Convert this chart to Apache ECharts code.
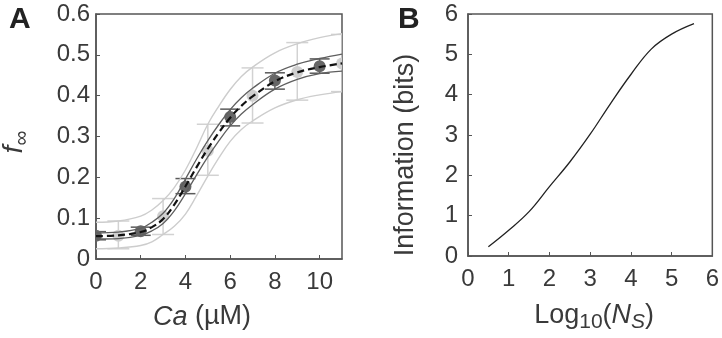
<!DOCTYPE html>
<html>
  <head>
    <meta charset="utf-8" />
    <title>Ca response and information</title>
    <script src="https://cdn.jsdelivr.net/npm/echarts@6/dist/echarts.min.js"></script>
    <style>
      body { margin: 0; background: #fff; }
    </style>
  </head>
  <body>
    <div id="main" style="width: 722px; height: 338px"></div>
    <script type="text/javascript">
      // panel A: fitted curves, sampled at these Ca values
      var curveX = [0, 1, 2, 2.5, 3, 3.5, 4, 4.5, 5, 5.5, 6, 6.5, 7, 8, 9, 10, 11];
      var fitMid = [0.056, 0.058, 0.066, 0.078, 0.098, 0.133, 0.178, 0.225, 0.27, 0.31, 0.346, 0.375, 0.398, 0.435, 0.457, 0.47, 0.479];
      var darkHi = [0.064, 0.066, 0.075, 0.09, 0.112, 0.148, 0.196, 0.245, 0.29, 0.33, 0.366, 0.395, 0.418, 0.455, 0.477, 0.491, 0.502];
      var darkLo = [0.049, 0.05, 0.058, 0.069, 0.087, 0.118, 0.16, 0.206, 0.25, 0.29, 0.326, 0.355, 0.378, 0.416, 0.44, 0.454, 0.46];
      var lightHi = [0.09, 0.093, 0.105, 0.12, 0.143, 0.175, 0.218, 0.272, 0.33, 0.375, 0.415, 0.447, 0.47, 0.505, 0.527, 0.542, 0.552];
      var lightLo = [0.025, 0.027, 0.033, 0.042, 0.06, 0.08, 0.11, 0.155, 0.203, 0.248, 0.288, 0.317, 0.338, 0.37, 0.39, 0.402, 0.41];

      // panel A: measured points with error bars
      var darkX = [0, 2, 4, 6, 8, 10];
      var darkY = [0.057, 0.068, 0.177, 0.348, 0.437, 0.472];
      var darkErrLo = [0.047, 0.058, 0.16, 0.326, 0.416, 0.455];
      var darkErrHi = [0.067, 0.078, 0.197, 0.367, 0.456, 0.49];
      var lightX = [1, 3, 5, 7, 9, 11];
      var lightY = [0.057, 0.105, 0.265, 0.4, 0.458, 0.479];
      var lightErrLo = [0.025, 0.06, 0.205, 0.333, 0.389, 0.41];
      var lightErrHi = [0.093, 0.148, 0.33, 0.468, 0.53, 0.55];

      // panel B: information curve
      var logNs = [0.5, 1, 1.5, 2, 2.5, 3, 3.5, 4, 4.5, 5, 5.55];
      var infoBits = [0.23, 0.64, 1.1, 1.72, 2.33, 3.02, 3.78, 4.5, 5.13, 5.5, 5.76];

      var aTicks = ["0", "0.1", "0.2", "0.3", "0.4", "0.5", "0.6"];

      function pairs(xs, ys) {
        var out = [];
        for (var i = 0; i < xs.length; i++) out.push([xs[i], ys[i]]);
        return out;
      }
      function errRows(xs, lo, hi) {
        var out = [];
        for (var i = 0; i < xs.length; i++) out.push([xs[i], lo[i], hi[i]]);
        return out;
      }
      function errBar(color, cap) {
        return function (params, api) {
          var x = api.value(0);
          var lo = api.coord([x, api.value(1)]);
          var hi = api.coord([x, api.value(2)]);
          var st = { stroke: color, lineWidth: 1.5 };
          return {
            type: "group",
            children: [
              { type: "line", shape: { x1: lo[0], y1: lo[1], x2: hi[0], y2: hi[1] }, style: st },
              { type: "line", shape: { x1: lo[0] - cap, y1: lo[1], x2: lo[0] + cap, y2: lo[1] }, style: st },
              { type: "line", shape: { x1: hi[0] - cap, y1: hi[1], x2: hi[0] + cap, y2: hi[1] }, style: st }
            ]
          };
        };
      }
      function dot(color, r) {
        return function (params, api) {
          var p = api.coord([api.value(0), api.value(1)]);
          return { type: "circle", shape: { cx: p[0], cy: p[1], r: r }, style: { fill: color } };
        };
      }
      function curve(ys, color, width, type) {
        return {
          type: "line",
          xAxisIndex: 0,
          yAxisIndex: 0,
          data: pairs(curveX, ys),
          smooth: 0.4,
          showSymbol: false,
          silent: true,
          lineStyle: { color: color, width: width, type: type || "solid" }
        };
      }

      var font = "Liberation Sans, Arial, sans-serif";
      var txt = "#3a3a3a";
      var axisCommon = {
        axisLine: { show: true, onZero: false, lineStyle: { color: "#555", width: 1.5 } },
        axisTick: { show: true, inside: true, length: 4, lineStyle: { color: "#555", width: 1 } },
        splitLine: { show: false },
        axisLabel: { color: txt, fontSize: 24, fontFamily: font }
      };

      var myChart = echarts.init(document.getElementById("main"));
      var option = {
        animation: false,
        backgroundColor: "#fff",
        grid: [
          { left: 96, top: 14, width: 246, height: 245, show: true, borderColor: "#555", borderWidth: 1.5 },
          { left: 468, top: 14, width: 245, height: 245, show: true, borderColor: "#555", borderWidth: 1.5 }
        ],
        xAxis: [
          Object.assign({}, axisCommon, {
            type: "value", gridIndex: 0, min: 0, max: 11, interval: 2,
            axisLabel: Object.assign({}, axisCommon.axisLabel, { margin: 11, showMaxLabel: false })
          }),
          Object.assign({}, axisCommon, {
            type: "value", gridIndex: 1, min: 0, max: 6, interval: 1,
            axisLabel: Object.assign({}, axisCommon.axisLabel, { margin: 11 }),
            name: "Log{sub|10}({i|N}{isub|S})",
            nameLocation: "middle",
            nameGap: 42,
            nameTextStyle: {
              color: txt, fontSize: 27, fontFamily: font, padding: [0, 0, 0, 8],
              rich: {
                sub: { fontSize: 21, fontFamily: font, color: txt, verticalAlign: "bottom", padding: [14, 0, 0, 0] },
                i: { fontStyle: "italic", fontSize: 27, fontFamily: font, color: txt },
                isub: { fontStyle: "italic", fontSize: 21, fontFamily: font, color: txt, verticalAlign: "bottom", padding: [14, 0, 0, 0] }
              }
            }
          })
        ],
        yAxis: [
          Object.assign({}, axisCommon, {
            type: "value", gridIndex: 0, min: 0, max: 0.6, interval: 0.1,
            axisLabel: Object.assign({}, axisCommon.axisLabel, {
              margin: 6,
              formatter: function (v) { return aTicks[Math.round(v * 10)]; }
            })
          }),
          Object.assign({}, axisCommon, {
            type: "value", gridIndex: 1, min: 0, max: 6, interval: 1,
            axisLabel: Object.assign({}, axisCommon.axisLabel, { margin: 10 })
          })
        ],
        graphic: [
          { type: "text", left: 9, top: 5, style: { text: "A", font: "bold 30px " + font, fill: "#222" } },
          { type: "text", left: 398, top: 5, style: { text: "B", font: "bold 30px " + font, fill: "#222" } },
          {
            type: "text", x: 202, y: 317,
            style: {
              text: "{i|Ca} (µM)", align: "center", verticalAlign: "middle",
              rich: {
                i: { fontStyle: "italic", fontSize: 27, fontFamily: font, fill: txt },
                n: { fontSize: 27, fontFamily: font, fill: txt }
              },
              font: "27px " + font, fill: txt
            }
          },
          {
            type: "text", x: 14, y: 142, rotation: Math.PI / 2,
            style: {
              text: "{i|f}{s|∞}", align: "center", verticalAlign: "middle",
              rich: {
                i: { fontStyle: "italic", fontSize: 28, fontFamily: font, fill: txt },
                s: { fontSize: 21, fontFamily: font, fill: txt, verticalAlign: "bottom", padding: [16, 0, 0, 0] }
              }
            }
          },
          {
            type: "text", x: 406, y: 155, rotation: Math.PI / 2,
            style: { text: "Information (bits)", align: "center", verticalAlign: "middle", font: "27px " + font, fill: txt }
          }
        ],
        series: [
          curve(lightHi, "#cdcdcd", 1.4),
          curve(lightLo, "#cdcdcd", 1.4),
          {
            type: "custom", xAxisIndex: 0, yAxisIndex: 0, clip: true, silent: true,
            data: errRows(lightX, lightErrLo, lightErrHi),
            renderItem: errBar("#d2d2d2", 11)
          },
          {
            type: "custom", xAxisIndex: 0, yAxisIndex: 0, clip: true, silent: true,
            data: errRows(darkX, darkErrLo, darkErrHi),
            renderItem: errBar("#5a5a5a", 10)
          },
          curve(darkHi, "#5f5f5f", 1.3),
          curve(darkLo, "#5f5f5f", 1.3),
          {
            type: "custom", xAxisIndex: 0, yAxisIndex: 0, clip: true, silent: true,
            data: pairs(lightX, lightY),
            renderItem: dot("#cfcfcf", 6)
          },
          {
            type: "custom", xAxisIndex: 0, yAxisIndex: 0, clip: true, silent: true,
            data: pairs(darkX, darkY),
            renderItem: dot("#666", 6)
          },
          curve(fitMid, "#111", 2.2, [7, 4]),
          {
            type: "line", xAxisIndex: 1, yAxisIndex: 1,
            data: pairs(logNs, infoBits),
            smooth: 0.4, showSymbol: false, silent: true,
            lineStyle: { color: "#222", width: 1.3 }
          }
        ]
      };
      myChart.setOption(option);
    </script>
  </body>
</html>
